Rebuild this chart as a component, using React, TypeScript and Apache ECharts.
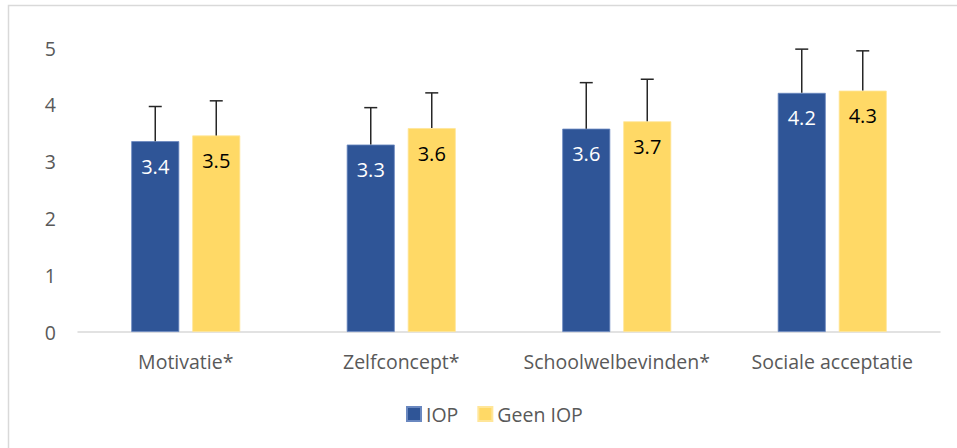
import React, { useEffect, useRef } from "react";
import * as echarts from "echarts";

const categories = ["Motivatie*", "Zelfconcept*", "Schoolwelbevinden*", "Sociale acceptatie"];
const seriesNames = ["IOP", "Geen IOP"];
const iopMeans = [3.36, 3.30, 3.58, 4.21];
const geenMeans = [3.46, 3.59, 3.71, 4.25];
const iopSD = [0.61, 0.65, 0.81, 0.77];
const geenSD = [0.61, 0.62, 0.74, 0.70];
const yTicks = [0, 1, 2, 3, 4, 5];

const FONT = "'Open Sans', Lato, sans-serif";
const BAR_W = 48;
const BAR_GAP_PX = 13;

export default function App() {
  const ref = useRef<HTMLDivElement>(null);
  useEffect(() => {
    if (!ref.current) return;
    const chart = echarts.init(ref.current, undefined, { renderer: "svg" });
    const offset = (BAR_W + BAR_GAP_PX) / 2;
    const errSeries = (means: number[], sds: number[], dir: number, name: string) => ({
      type: "custom",
      name: name + "_err",
      z: 5,
      silent: true,
      data: means.map((m, i) => [i, m, m + sds[i]]),
      renderItem: (params: any, api: any) => {
        const i = api.value(0);
        const p0 = api.coord([i, api.value(1)]);
        const p1 = api.coord([i, api.value(2)]);
        const x = p0[0] + dir * offset;
        const cap = 6.5;
        const style = { stroke: "#262626", lineWidth: 1.5 };
        return {
          type: "group",
          children: [
            { type: "line", shape: { x1: x, y1: p0[1], x2: x, y2: p1[1] }, style },
            { type: "line", shape: { x1: x - cap, y1: p1[1], x2: x + cap, y2: p1[1] }, style },
          ],
        };
      },
    });
    chart.setOption({
      animation: false,
      backgroundColor: "#ffffff",
      textStyle: { fontFamily: FONT },
      graphic: [
        {
          type: "polyline",
          shape: { points: [[8.5, 460], [8.5, 5.5], [970, 5.5]] },
          style: { stroke: "#d9d9d9", lineWidth: 1.5, fill: "none" },
          silent: true,
        },
      ],
      grid: { left: 78, right: 17, top: 48, bottom: 116 },
      legend: {
        data: seriesNames,
        left: 401,
        top: 399,
        itemWidth: 14,
        itemHeight: 14,
        itemGap: 19,
        icon: "rect",
        textStyle: { fontFamily: FONT, fontSize: 19.5, color: "#595959" },
      },
      xAxis: {
        type: "category",
        data: categories,
        axisLine: { lineStyle: { color: "#d9d9d9", width: 1.5 } },
        axisTick: { show: false },
        axisLabel: { interval: 0, fontFamily: FONT, fontSize: 19.5, color: "#595959", margin: 19 },
      },
      yAxis: {
        type: "value",
        min: yTicks[0],
        max: yTicks[yTicks.length - 1],
        interval: 1,
        splitLine: { show: false },
        axisLine: { show: false },
        axisTick: { show: false },
        axisLabel: { fontFamily: FONT, fontSize: 19.5, color: "#595959", margin: 22 },
      },
      series: [
        {
          type: "bar",
          name: seriesNames[0],
          data: iopMeans,
          barWidth: BAR_W,
          barGap: (BAR_GAP_PX / BAR_W) * 100 + "%",
          itemStyle: { color: "#2F5597", borderColor: "#6a88c0", borderWidth: 0.8 },
          label: {
            show: true,
            position: "insideTop",
            distance: 15,
            fontFamily: FONT,
            fontSize: 20,
            color: "#ffffff",
            formatter: (p: any) => p.value.toFixed(1),
          },
        },
        {
          type: "bar",
          name: seriesNames[1],
          data: geenMeans,
          barWidth: BAR_W,
          itemStyle: { color: "#FFD966", borderColor: "#ffe699", borderWidth: 0.8 },
          label: {
            show: true,
            position: "insideTop",
            distance: 15,
            fontFamily: FONT,
            fontSize: 20,
            color: "#000000",
            formatter: (p: any) => p.value.toFixed(1),
          },
        },
        errSeries(iopMeans, iopSD, -1, seriesNames[0]),
        errSeries(geenMeans, geenSD, 1, seriesNames[1]),
      ],
    });
    return () => chart.dispose();
  }, []);
  return <div ref={ref} style={{ width: 957, height: 448, position: "absolute", left: 0, top: 0 }} />;
}
